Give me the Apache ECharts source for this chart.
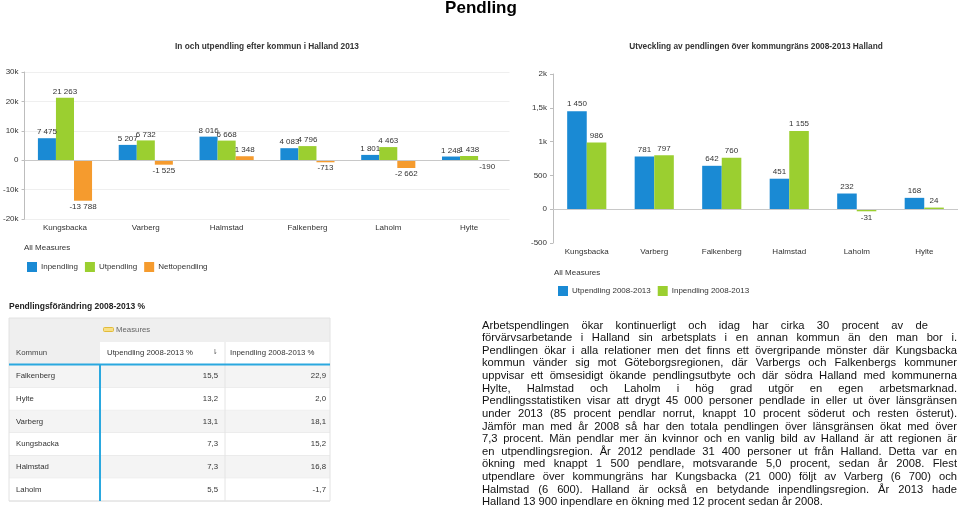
<!DOCTYPE html>
<html>
<head>
<meta charset="utf-8">
<script src="https://cdn.jsdelivr.net/npm/echarts@6/dist/echarts.min.js"></script>
<style>
  html, body { margin: 0; padding: 0; background: #fff; }
  #chart { position: absolute; left: 0; top: 0; width: 960px; height: 508px; }
  #para { position: absolute; left: 482px; top: 318.5px; width: 475px;
          font-family: "Liberation Sans", Arial, sans-serif; font-size: 11.2px; color: #111; }
  #para div { height: 12.64px; line-height: 12.64px; white-space: nowrap;
              text-align: justify; text-align-last: justify; }
  #para div.last { text-align-last: left; }
</style>
</head>
<body>
<div id="chart"></div>
<div id="para"></div>
<script>
// ---- Data ----
const leftCategories = ['Kungsbacka', 'Varberg', 'Halmstad', 'Falkenberg', 'Laholm', 'Hylte'];
const inpendling2013 = [7475, 5207, 8016, 4083, 1801, 1248];
const utpendling2013 = [21263, 6732, 6668, 4796, 4463, 1438];
const nettopendling2013 = [-13788, -1525, 1348, -713, -2662, -190];
const leftTickLabels = { '-20000': '-20k', '-10000': '-10k', '0': '0', '10000': '10k', '20000': '20k', '30000': '30k' };

const rightCategories = ['Kungsbacka', 'Varberg', 'Falkenberg', 'Halmstad', 'Laholm', 'Hylte'];
const utpendlingChange = [1450, 781, 642, 451, 232, 168];
const inpendlingChange = [986, 797, 760, 1155, -31, 24];
const rightTickLabels = { '-500': '-500', '0': '0', '500': '500', '1000': '1k', '1500': '1,5k', '2000': '2k' };

const tableKommuner = ['Falkenberg', 'Hylte', 'Varberg', 'Kungsbacka', 'Halmstad', 'Laholm'];
const tableUtPct = [15.5, 13.2, 13.1, 7.3, 7.3, 5.5];
const tableInPct = [22.9, 2.0, 18.1, 15.2, 16.8, -1.7];

const paragraphLines = [
  'Arbetspendlingen ökar kontinuerligt och idag har cirka 30 procent av de',
  'förvärvsarbetande i Halland sin arbetsplats i en annan kommun än den man bor i.',
  'Pendlingen ökar i alla relationer men det finns ett övergripande mönster där Kungsbacka',
  'kommun vänder sig mot Göteborgsregionen, där Varbergs och Falkenbergs kommuner',
  'uppvisar ett ömsesidigt ökande pendlingsutbyte och där södra Halland med kommunerna',
  'Hylte, Halmstad och Laholm i hög grad utgör en egen arbetsmarknad.',
  'Pendlingsstatistiken visar att drygt 45 000 personer pendlade in eller ut över länsgränsen',
  'under 2013 (85 procent pendlar norrut, knappt 10 procent söderut och resten österut).',
  'Jämför man med år 2008 så har den totala pendlingen över länsgränsen ökat med över',
  '7,3 procent. Män pendlar mer än kvinnor och en vanlig bild av Halland är att regionen är',
  'en utpendlingsregion. År 2012 pendlade 31 400 personer ut från Halland. Detta var en',
  'ökning med knappt 1 500 pendlare, motsvarande 5,0 procent, sedan år 2008. Flest',
  'utpendlare över kommungräns har Kungsbacka (21 000) följt av Varberg (6 700) och',
  'Halmstad (6 600). Halland är också en betydande inpendlingsregion. År 2013 hade',
  'Halland 13 900 inpendlare en ökning med 12 procent sedan år 2008.'
];

// ---- Paragraph (HTML text) ----
const para = document.getElementById('para');
paragraphLines.forEach((t, i) => {
  const d = document.createElement('div');
  d.textContent = t;
  if (i === 0) d.style.width = '446px';
  if (i === paragraphLines.length - 1) d.className = 'last';
  para.appendChild(d);
});

// ---- Helpers ----
const FONT = '"Liberation Sans", Arial, sans-serif';
const BLUE = '#1a8ad4', GREEN = '#9bcf30', ORANGE = '#f59b2e';
function fmt(v) {
  const s = Math.abs(v).toString().replace(/\B(?=(\d{3})+(?!\d))/g, ' ');
  return (v < 0 ? '-' : '') + s;
}
function pct(v) { return v.toFixed(1).replace('.', ','); }
function barData(arr) {
  return arr.map(v => ({ value: v, label: { position: v < 0 ? 'bottom' : 'top' } }));
}
const barLabel = { show: true, fontSize: 8, color: '#333', fontFamily: FONT, distance: 2, formatter: p => fmt(p.value) };
const zeroLine = {
  silent: true, symbol: 'none', label: { show: false },
  lineStyle: { color: '#c8c8c8', type: 'solid', width: 1 },
  data: [{ yAxis: 0 }]
};

// ---- Table graphic ----
const g = [];
const TX = 9, TW = 321, rowH = 22.67, bodyTop = 365;
g.push({ type: 'text', left: 9, top: 302, style: { text: 'Pendlingsförändring 2008-2013 %', font: 'bold 8.5px ' + FONT, fill: '#222' } });
g.push({ type: 'rect', shape: { x: TX, y: 318, width: TW, height: 24 }, style: { fill: '#efefef' } });
g.push({ type: 'rect', shape: { x: TX, y: 342, width: 91, height: 22 }, style: { fill: '#efefef' } });
g.push({ type: 'rect', shape: { x: 100, y: 342, width: 230, height: 22 }, style: { fill: '#ffffff' } });
tableKommuner.forEach((k, i) => {
  const y = bodyTop + i * rowH;
  g.push({ type: 'rect', shape: { x: TX, y: y, width: TW, height: rowH }, style: { fill: i % 2 === 0 ? '#f4f4f4' : '#ffffff' } });
  g.push({ type: 'line', shape: { x1: TX, y1: y + rowH, x2: TX + TW, y2: y + rowH }, style: { stroke: '#e4e4e4', lineWidth: 1 } });
  g.push({ type: 'text', x: 16, y: y + rowH / 2, style: { text: k, font: '7.8px ' + FONT, fill: '#333', textVerticalAlign: 'middle' } });
  g.push({ type: 'text', x: 218, y: y + rowH / 2, style: { text: pct(tableUtPct[i]), font: '7.8px ' + FONT, fill: '#333', textAlign: 'right', textVerticalAlign: 'middle' } });
  g.push({ type: 'text', x: 326, y: y + rowH / 2, style: { text: pct(tableInPct[i]), font: '7.8px ' + FONT, fill: '#333', textAlign: 'right', textVerticalAlign: 'middle' } });
});
g.push({ type: 'line', shape: { x1: 225, y1: 342, x2: 225, y2: bodyTop + 6 * rowH }, style: { stroke: '#e4e4e4', lineWidth: 1 } });
g.push({ type: 'rect', shape: { x: TX, y: 318, width: TW, height: bodyTop + 6 * rowH - 318 }, style: { fill: 'none', stroke: '#e2e2e2', lineWidth: 1 } });
g.push({ type: 'line', shape: { x1: TX, y1: 364.5, x2: TX + TW, y2: 364.5 }, style: { stroke: '#2aa8df', lineWidth: 2 } });
g.push({ type: 'line', shape: { x1: 100, y1: 364, x2: 100, y2: bodyTop + 6 * rowH }, style: { stroke: '#2aa8df', lineWidth: 2 } });
g.push({ type: 'rect', shape: { x: 103.5, y: 327.5, width: 10, height: 4, r: 1 }, style: { fill: '#f7df86', stroke: '#e2bb3a', lineWidth: 1 } });
g.push({ type: 'text', x: 116, y: 330, style: { text: 'Measures', font: '7.8px ' + FONT, fill: '#666', textVerticalAlign: 'middle' } });
g.push({ type: 'text', x: 16, y: 353, style: { text: 'Kommun', font: '7.8px ' + FONT, fill: '#444', textVerticalAlign: 'middle' } });
g.push({ type: 'text', x: 107, y: 353, style: { text: 'Utpendling 2008-2013 %', font: '7.8px ' + FONT, fill: '#333', textVerticalAlign: 'middle' } });
g.push({ type: 'text', x: 212, y: 352, style: { text: '⇂', font: '7px "DejaVu Sans"', fill: '#555', textVerticalAlign: 'middle' } });
g.push({ type: 'text', x: 230, y: 353, style: { text: 'Inpendling 2008-2013 %', font: '7.8px ' + FONT, fill: '#333', textVerticalAlign: 'middle' } });

// titles and legend headers
g.push({ type: 'text', x: 481, y: 8, style: { text: 'Pendling', font: 'bold 17px ' + FONT, fill: '#000', textAlign: 'center', textVerticalAlign: 'middle' } });
g.push({ type: 'text', x: 267, y: 47, style: { text: 'In och utpendling efter kommun i Halland 2013', font: 'bold 8.3px ' + FONT, fill: '#333', textAlign: 'center', textVerticalAlign: 'middle' } });
g.push({ type: 'text', x: 756, y: 47, style: { text: 'Utveckling av pendlingen över kommungräns 2008-2013 Halland', font: 'bold 8.3px ' + FONT, fill: '#333', textAlign: 'center', textVerticalAlign: 'middle' } });
g.push({ type: 'text', x: 24, y: 248, style: { text: 'All Measures', font: '8px ' + FONT, fill: '#333', textVerticalAlign: 'middle' } });
g.push({ type: 'text', x: 554, y: 273, style: { text: 'All Measures', font: '8px ' + FONT, fill: '#333', textVerticalAlign: 'middle' } });

const axisLabelStyle = { fontSize: 8, color: '#333', fontFamily: FONT };

const option = {
  animation: false,
  backgroundColor: '#fff',
  textStyle: { fontFamily: FONT },
  grid: [
    { left: 23, right: 450.5, top: 72, bottom: 289 },
    { left: 553, right: 2, top: 74, bottom: 265 }
  ],
  legend: [
    { left: 22, top: 257, itemWidth: 10, itemHeight: 10, itemGap: 7, icon: 'rect',
      textStyle: { fontSize: 8, color: '#333', fontFamily: FONT, padding: [0, 0, 0, -1] },
      data: ['Inpendling', 'Utpendling', 'Nettopendling'] },
    { left: 553, top: 281, itemWidth: 10, itemHeight: 10, itemGap: 7, icon: 'rect',
      textStyle: { fontSize: 8, color: '#333', fontFamily: FONT, padding: [0, 0, 0, -1] },
      data: ['Utpendling 2008-2013', 'Inpendling 2008-2013'] }
  ],
  xAxis: [
    { type: 'category', gridIndex: 0, data: leftCategories,
      axisLine: { show: false, onZero: false }, axisTick: { show: false },
      axisLabel: Object.assign({ margin: 5 }, axisLabelStyle) },
    { type: 'category', gridIndex: 1, data: rightCategories,
      axisLine: { show: false, onZero: false }, axisTick: { show: false },
      axisLabel: Object.assign({ margin: 5 }, axisLabelStyle) }
  ],
  yAxis: [
    { type: 'value', gridIndex: 0, min: -20000, max: 30000, interval: 10000,
      axisLine: { show: true, lineStyle: { color: '#bdbdbd' } },
      axisTick: { show: true, length: 3, lineStyle: { color: '#bdbdbd' } },
      splitLine: { show: true, lineStyle: { color: '#efefef' } },
      axisLabel: Object.assign({ margin: 6, formatter: v => leftTickLabels[String(v)] }, axisLabelStyle) },
    { type: 'value', gridIndex: 1, min: -500, max: 2000, interval: 500,
      axisLine: { show: true, lineStyle: { color: '#bdbdbd' } },
      axisTick: { show: true, length: 3, lineStyle: { color: '#bdbdbd' } },
      splitLine: { show: false },
      axisLabel: Object.assign({ margin: 6, formatter: v => rightTickLabels[String(v)] }, axisLabelStyle) }
  ],
  series: [
    { name: 'Inpendling', type: 'bar', xAxisIndex: 0, yAxisIndex: 0, data: barData(inpendling2013),
      itemStyle: { color: BLUE }, barGap: '0%', barCategoryGap: '33%', label: barLabel, markLine: zeroLine },
    { name: 'Utpendling', type: 'bar', xAxisIndex: 0, yAxisIndex: 0, data: barData(utpendling2013),
      itemStyle: { color: GREEN }, barGap: '0%', barCategoryGap: '33%', label: barLabel },
    { name: 'Nettopendling', type: 'bar', xAxisIndex: 0, yAxisIndex: 0, data: barData(nettopendling2013),
      itemStyle: { color: ORANGE }, barGap: '0%', barCategoryGap: '33%', label: barLabel },
    { name: 'Utpendling 2008-2013', type: 'bar', xAxisIndex: 1, yAxisIndex: 1, data: barData(utpendlingChange),
      itemStyle: { color: BLUE }, barGap: '0%', barCategoryGap: '42%', label: Object.assign({}, barLabel, { distance: 3 }), markLine: zeroLine },
    { name: 'Inpendling 2008-2013', type: 'bar', xAxisIndex: 1, yAxisIndex: 1, data: barData(inpendlingChange),
      itemStyle: { color: GREEN }, barGap: '0%', barCategoryGap: '42%', label: Object.assign({}, barLabel, { distance: 3 }) }
  ],
  graphic: g
};

const chart = echarts.init(document.getElementById('chart'), null, { renderer: 'canvas' });
chart.setOption(option);
</script>
</body>
</html>
